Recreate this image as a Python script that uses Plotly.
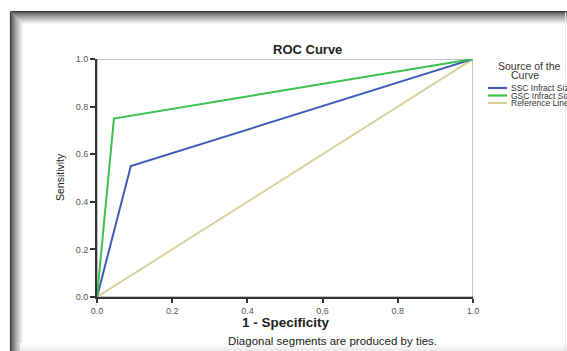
import plotly.graph_objects as go

# ---- data ----
series_names = ["SSC Infract Size", "GSC Infract Size", "Reference Line"]
ssc_fpr = [0.0, 0.09, 1.0]
ssc_tpr = [0.0, 0.55, 1.0]
gsc_fpr = [0.0, 0.045, 1.0]
gsc_tpr = [0.0, 0.75, 1.0]
ref_fpr = [0.0, 1.0]
ref_tpr = [0.0, 1.0]
tick_vals = [0.0, 0.2, 0.4, 0.6, 0.8, 1.0]
tick_text = ["0.0", "0.2", "0.4", "0.6", "0.8", "1.0"]

colors = ["#3f5bb8", "#3cc24c", "#d9d19c"]

W, H = 567, 351
def px(x):
    return x / W
def py(y):
    return 1 - y / H

FONT = "Liberation Sans, Arial"

fig = go.Figure()
fig.add_trace(go.Scatter(x=ref_fpr, y=ref_tpr, mode="lines", name=series_names[2],
                         line=dict(color=colors[2], width=2), showlegend=False))
fig.add_trace(go.Scatter(x=ssc_fpr, y=ssc_tpr, mode="lines", name=series_names[0],
                         line=dict(color=colors[0], width=2), showlegend=False))
fig.add_trace(go.Scatter(x=gsc_fpr, y=gsc_tpr, mode="lines", name=series_names[1],
                         line=dict(color=colors[1], width=2), showlegend=False))

shapes = []
shapes.append(dict(type="rect", xref="x", yref="y", x0=0, x1=1, y0=0, y1=1,
                   line=dict(color="#8a8a8a", width=1), layer="below"))

# screenshot frame: dark border with soft inward shadow
for i in range(14):
    g = int(60 + (255 - 60) * (i / 13) ** 0.7)
    c = f"rgb({g},{g},{g})"
    xl = 10.5 + i
    yt = 11.5 + i
    shapes.append(dict(type="line", xref="paper", yref="paper",
                       x0=px(xl), x1=px(xl), y0=py(yt), y1=0,
                       line=dict(color=c, width=1.2)))
    shapes.append(dict(type="line", xref="paper", yref="paper",
                       x0=px(xl), x1=1, y0=py(yt), y1=py(yt),
                       line=dict(color=c, width=1.2)))
for i in range(8):
    g = int(235 + 20 * (i / 7))
    c = f"rgb({g},{g},{g})"
    yb = 350.5 - i
    shapes.append(dict(type="line", xref="paper", yref="paper",
                       x0=px(20), x1=1, y0=py(yb), y1=py(yb),
                       line=dict(color=c, width=1.2)))
shapes.append(dict(type="line", xref="paper", yref="paper",
                   x0=px(565.5), x1=px(565.5), y0=py(12), y1=0,
                   line=dict(color="#e6e6e6", width=1)))

annotations = []
legend_rows = [(series_names[0], colors[0], 88), (series_names[1], colors[1], 95.5),
               (series_names[2], colors[2], 103)]
for name, col, yy in legend_rows:
    shapes.append(dict(type="line", xref="paper", yref="paper",
                       x0=px(488), x1=px(507), y0=py(yy), y1=py(yy),
                       line=dict(color=col, width=2.2)))
    annotations.append(dict(text=name, xref="paper", yref="paper", x=px(509), y=py(yy),
                            xanchor="left", yanchor="middle", showarrow=False,
                            font=dict(family=FONT, size=8.5, color="#333333")))
annotations.append(dict(text="Source of the", xref="paper", yref="paper",
                        x=px(496), y=py(66), xanchor="left", yanchor="middle", showarrow=False,
                        font=dict(family=FONT, size=10.5, color="#333333")))
annotations.append(dict(text="Curve", xref="paper", yref="paper",
                        x=px(525), y=py(75), xanchor="center", yanchor="middle", showarrow=False,
                        font=dict(family=FONT, size=10.5, color="#333333")))

annotations.append(dict(text="<b>ROC Curve</b>", xref="paper", yref="paper",
                        x=px(307), y=py(50), xanchor="center", yanchor="middle", showarrow=False,
                        font=dict(family=FONT, size=13, color="#222222")))
annotations.append(dict(text="<b>1 - Specificity</b>", xref="paper", yref="paper",
                        x=px(286), y=py(322), xanchor="center", yanchor="middle", showarrow=False,
                        font=dict(family=FONT, size=13.5, color="#222222")))
annotations.append(dict(text="Diagonal segments are produced by ties.", xref="paper", yref="paper",
                        x=px(332), y=py(341), xanchor="center", yanchor="middle", showarrow=False,
                        font=dict(family=FONT, size=11.5, color="#222222")))
annotations.append(dict(text="Sensitivity", xref="paper", yref="paper",
                        x=px(60), y=py(177), xanchor="center", yanchor="middle", showarrow=False,
                        textangle=-90,
                        font=dict(family="Liberation Sans Narrow, Liberation Sans, Arial", size=10.5,
                                  color="#222222")))

fig.update_layout(
    width=W, height=H,
    margin=dict(l=0, r=0, t=0, b=0, autoexpand=False),
    paper_bgcolor="white", plot_bgcolor="white",
    shapes=shapes, annotations=annotations,
    showlegend=False,
    xaxis=dict(domain=[px(97), px(473)], range=[0, 1], tickvals=tick_vals, ticktext=tick_text,
               showgrid=False, zeroline=False, showline=True, linecolor="#333333", linewidth=2,
               ticks="outside", ticklen=4, tickwidth=2, tickcolor="#333333",
               tickfont=dict(family=FONT, size=9, color="#555555")),
    yaxis=dict(domain=[py(297), py(59)], range=[0, 1], tickvals=tick_vals, ticktext=tick_text,
               showgrid=False, zeroline=False, showline=True, linecolor="#333333", linewidth=2,
               ticks="outside", ticklen=5, tickwidth=2, tickcolor="#333333",
               tickfont=dict(family=FONT, size=9, color="#555555")),
)

fig.write_html("out.html", config={"displayModeBar": False},
               post_script="document.body.style.margin='0px';document.body.style.overflow='hidden';")
